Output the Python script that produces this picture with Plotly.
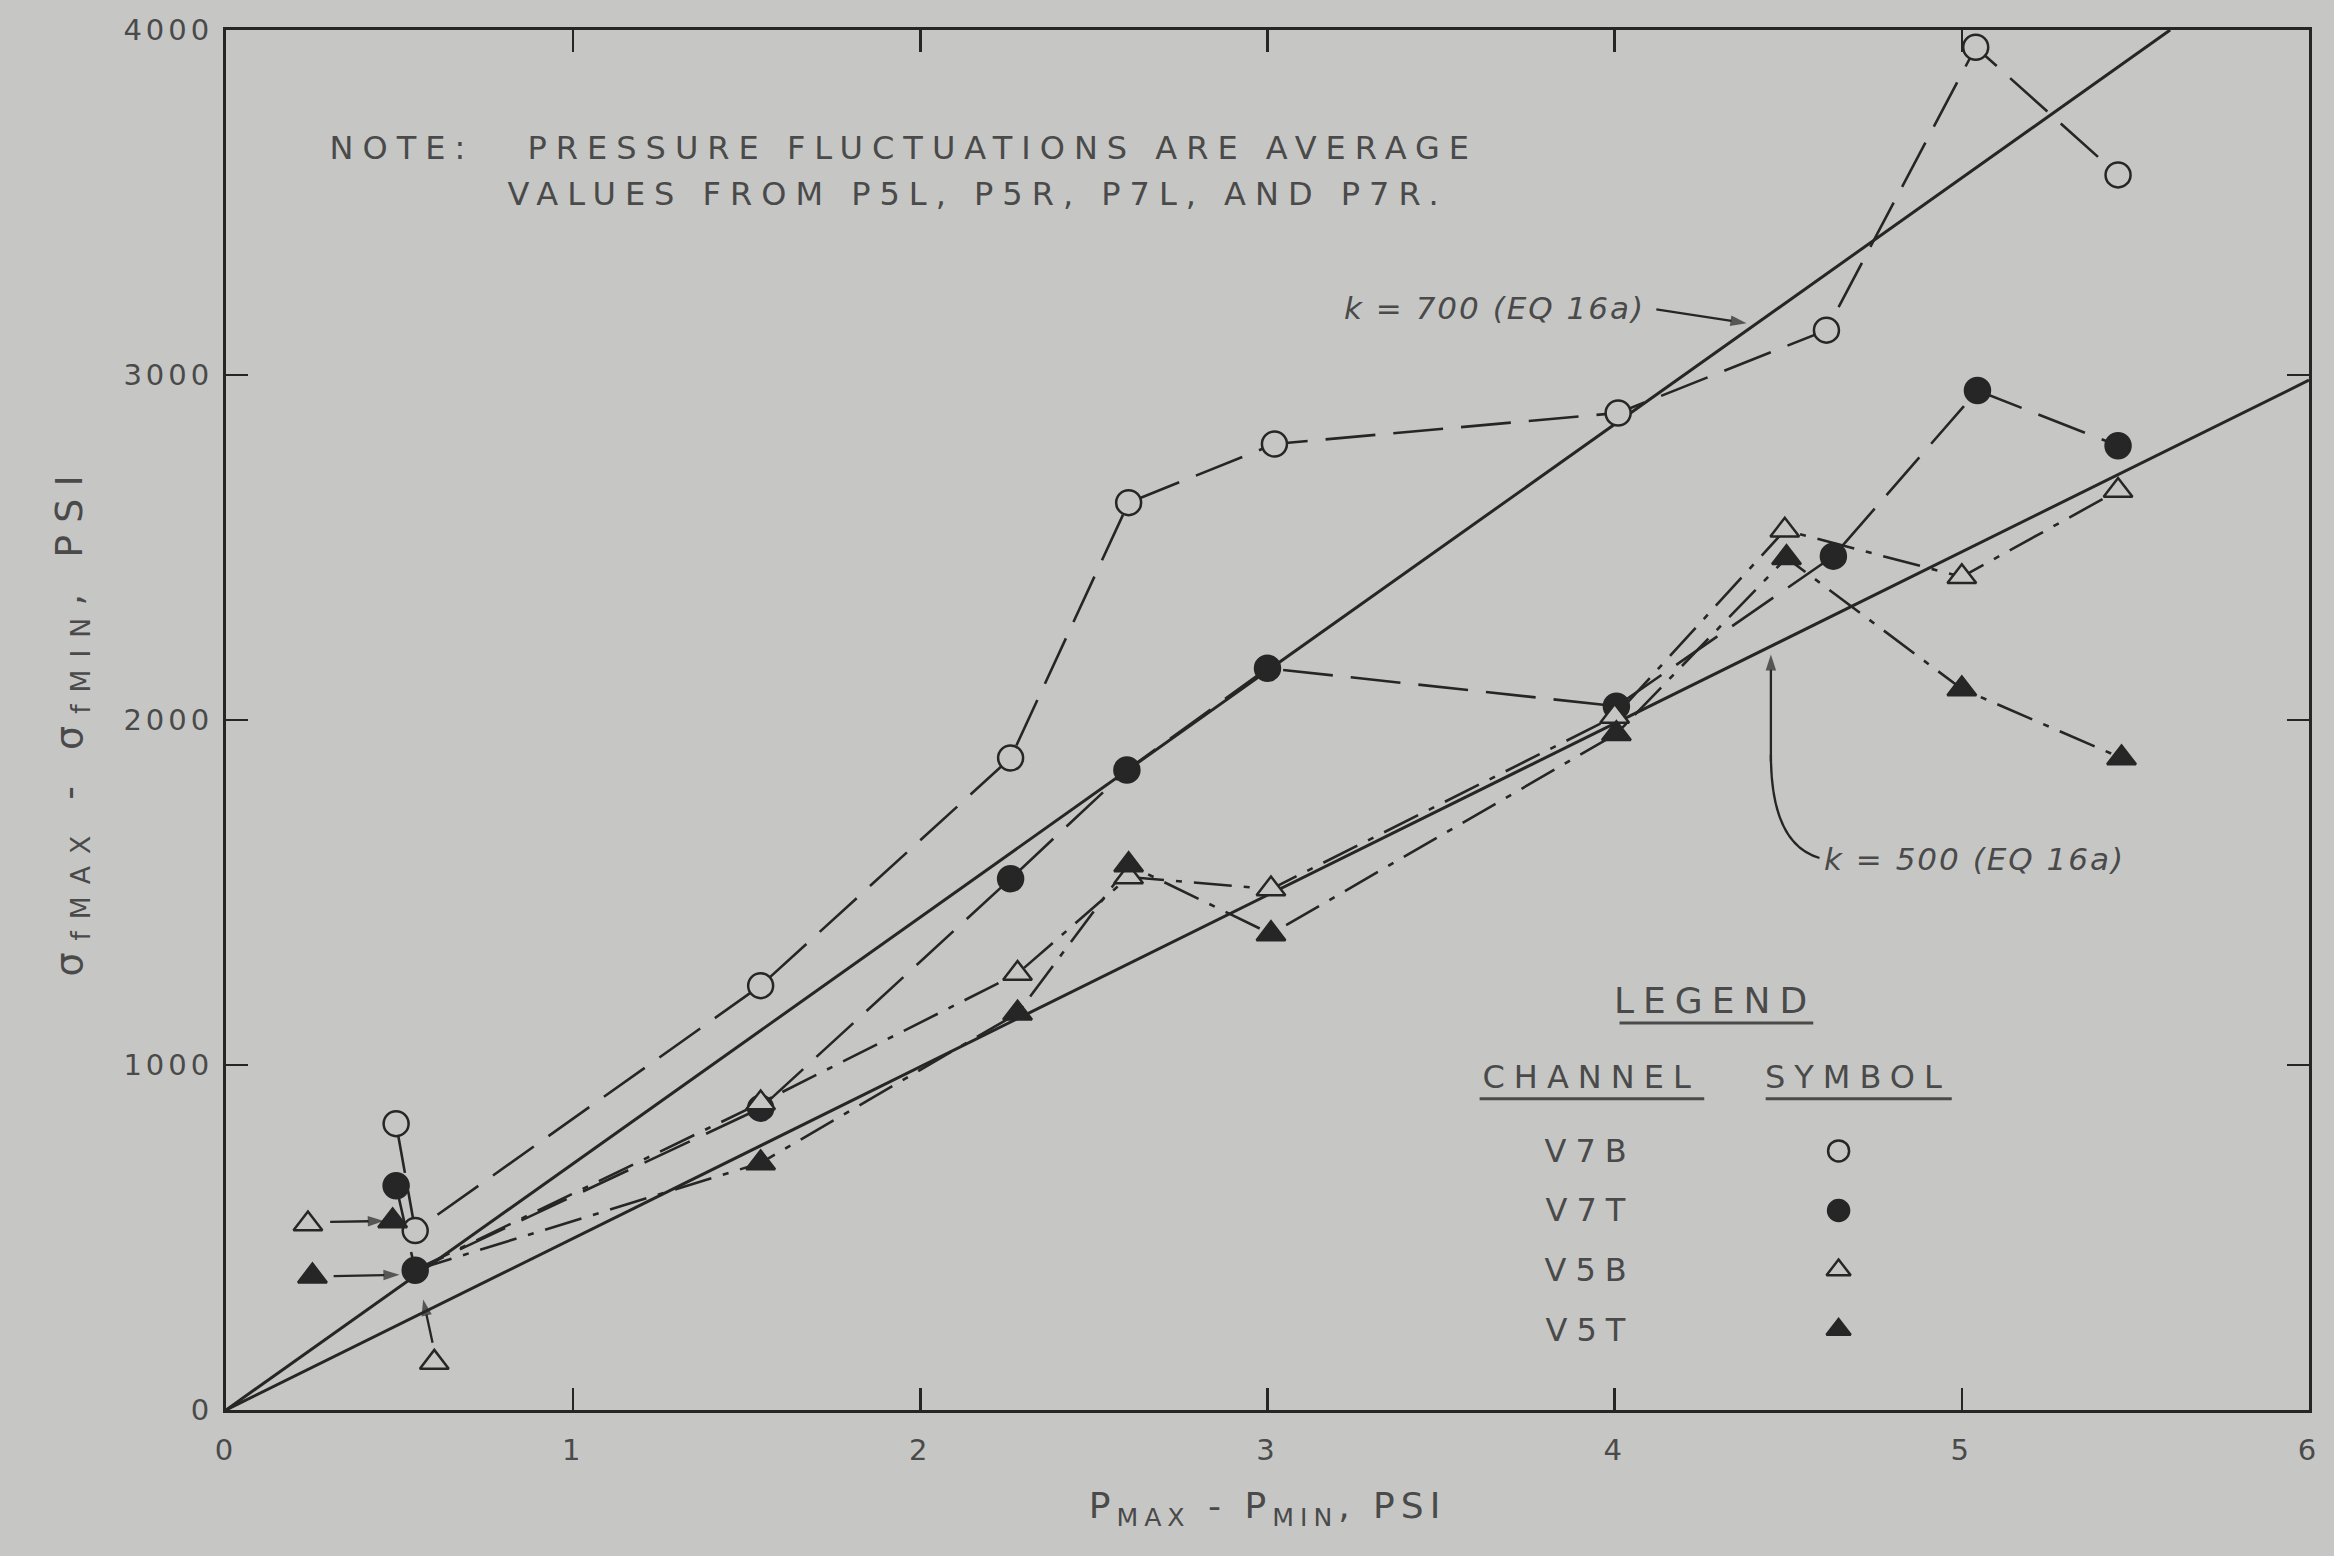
import plotly.graph_objects as go

# ---------------- data ----------------
x_ticks = [0, 1, 2, 3, 4, 5, 6]
y_ticks = [0, 1000, 2000, 3000, 4000]

v7b_x = [0.49, 0.545, 1.54, 2.26, 2.60, 3.02, 4.01, 4.61, 5.04, 5.45]
v7b_y = [830, 520, 1230, 1890, 2630, 2800, 2890, 3130, 3950, 3580]

v7t_x = [0.49, 0.545, 1.54, 2.26, 2.595, 3.0, 4.005, 4.63, 5.045, 5.45]
v7t_y = [650, 405, 875, 1540, 1855, 2150, 2040, 2475, 2955, 2795]

v5b_x = [0.545, 1.54, 2.28, 2.60, 3.01, 4.0, 4.49, 5.0, 5.45]
v5b_y = [406, 890, 1265, 1545, 1510, 2010, 2550, 2415, 2665]

v5t_x = [0.545, 1.54, 2.28, 2.60, 3.01, 4.005, 4.495, 5.0, 5.46]
v5t_y = [406, 716, 1150, 1580, 1380, 1960, 2470, 2090, 1890]

# symbols drawn beside the crowded origin cluster (with pointer arrows)
offset_open_tri_x = [0.236, 0.60]
offset_open_tri_y = [539, 138]
offset_fill_tri_x = [0.249, 0.48]
offset_fill_tri_y = [388, 548]

# theory lines k = 700 and k = 500 (EQ 16a), end points
k700_x = [0, 5.6]
k700_y = [0, 4000]
k500_x = [0, 6.0]
k500_y = [0, 2985]

legend_channels = ["V7B", "V7T", "V5B", "V5T"]

# ---------------- styling ----------------
BG = "#c6c7c5"
INK = "#262626"
TXT = "#4a4a4a"
FONT = "DejaVu Sans"

fig = go.Figure()

def add_line(x, y, dash, width=2.6):
    fig.add_trace(go.Scatter(x=x, y=y, mode="lines",
                             line=dict(color=INK, width=width, dash=dash),
                             hoverinfo="skip", showlegend=False))

def add_markers(x, y, symbol, size, filled):
    fig.add_trace(go.Scatter(
        x=x, y=y, mode="markers",
        marker=dict(symbol=symbol, size=size,
                    color=INK if filled else BG,
                    line=dict(color=INK, width=2.5)),
        hoverinfo="skip", showlegend=False))

def add_arrow(x0, y0, x1, y1, head=17):
    fig.add_trace(go.Scatter(
        x=[x0, x1], y=[y0, y1], mode="lines+markers",
        line=dict(color=INK, width=2.3),
        marker=dict(symbol="arrow", size=[0, head], angleref="previous",
                    color=INK, line=dict(width=0)),
        hoverinfo="skip", showlegend=False))

# theory lines (solid)
add_line(k700_x, k700_y, "solid", 3)
add_line(k500_x, k500_y, "solid", 3)

# data lines
add_line(v7b_x, v7b_y, "50px,18px")
add_line(v7t_x, v7t_y, "50px,18px")
add_line(v5b_x, v5b_y, "38px,12px,6px,12px")
add_line(v5t_x, v5t_y, "38px,12px,6px,12px")

# data markers
add_markers(v7b_x, v7b_y, "circle", 25, False)
add_markers(v7t_x, v7t_y, "circle", 25, True)
add_markers(v5b_x[1:], v5b_y[1:], "triangle-up", 25, False)
add_markers(v5t_x[1:], v5t_y[1:], "triangle-up", 25, True)
add_markers(offset_open_tri_x, offset_open_tri_y, "triangle-up", 25, False)
add_markers(offset_fill_tri_x, offset_fill_tri_y, "triangle-up", 25, True)

# pointer arrows
add_arrow(4.12, 3190, 4.38, 3150)      # k = 700 label
add_arrow(4.45, 1880, 4.45, 2190)      # k = 500 label (curved tail below)
add_arrow(0.30, 545, 0.455, 548)       # origin cluster pointers
add_arrow(0.31, 388, 0.50, 392)
add_arrow(0.595, 195, 0.568, 320)

# legend table (drawn inside the plot, like the original)
leg_text_x = 3.93
leg_sym_x = 4.645
row0_y = 751
row_step = 172.6
row_y = [row0_y - i * row_step for i in range(len(legend_channels))]
leg_symbols = [("circle", False), ("circle", True), ("triangle-up", False), ("triangle-up", True)]
for (sym, filled), yy in zip(leg_symbols, row_y):
    add_markers([leg_sym_x], [yy], sym, 21, filled)

annotations = []

def txt(x, y, s, size=32, italic=False, color=TXT):
    annotations.append(dict(
        x=x, y=y, xref="x", yref="y", text=s, showarrow=False,
        xanchor="center", yanchor="middle",
        font=dict(family=FONT, size=size, color=color,
                  style="italic" if italic else "normal")))

# note (centres)
txt(0.508, 3658, "NOTE:", 32)
txt(2.239, 3658, "PRESSURE FLUCTUATIONS ARE AVERAGE", 32)
txt(2.164, 3525, "VALUES FROM P5L, P5R, P7L, AND P7R.", 32)

# k labels
txt(3.654, 3193, "k = 700 (EQ 16a)", 31, italic=True)
txt(5.037, 1596, "k = 500 (EQ 16a)", 31, italic=True)

# legend texts
txt(4.29, 1186, "LEGEND", 36)
txt(3.933, 966, "CHANNEL", 32)
txt(4.70, 966, "SYMBOL", 32)
for name, yy in zip(legend_channels, row_y):
    txt(leg_text_x, yy, name, 32)

shapes = []
def uline(x0, x1, y):
    shapes.append(dict(type="line", xref="x", yref="y", x0=x0, x1=x1, y0=y, y1=y,
                       line=dict(color=TXT, width=3)))
uline(4.014, 4.572, 1122)
uline(3.611, 4.258, 902)
uline(4.435, 4.971, 902)

# curved leader of the k = 500 label
shapes.append(dict(type="path", xref="x", yref="y",
                   path="M 4.59,1600 Q 4.45,1640 4.45,1900",
                   line=dict(color=INK, width=2.3)))

axis_common = dict(
    showgrid=False, zeroline=False, showline=True, linecolor=INK, linewidth=3,
    mirror="ticks", ticks="inside", ticklen=22, tickwidth=2.5, tickcolor=INK,
    tickfont=dict(family=FONT, size=29, color=TXT),
)

fig.update_layout(
    width=2334, height=1556,
    margin=dict(l=226, r=25, t=30, b=146),
    paper_bgcolor=BG, plot_bgcolor=BG,
    showlegend=False,
    annotations=annotations,
    shapes=shapes,
    xaxis=dict(range=[0, 6], tickvals=x_ticks, ticktext=[str(v) for v in x_ticks],
               ticklabelstandoff=12,
               title=dict(text="P<sub>MAX</sub> - P<sub>MIN</sub>, PSI",
                          font=dict(family=FONT, size=36, color=TXT), standoff=28),
               **axis_common),
    yaxis=dict(range=[0, 4000], tickvals=y_ticks, ticktext=[str(v) for v in y_ticks],
               ticklabelstandoff=4,
               title=dict(text="σ<sub>fMAX</sub> - σ<sub>fMIN</sub>, PSI",
                          font=dict(family=FONT, size=38, color=TXT), standoff=46),
               **axis_common),
)

# page: no body margin, and the wide letter spacing of the original lettering
post = """
document.documentElement.style.margin='0';
document.body.style.margin='0';
document.body.style.background='%s';
var gd = document.getElementById('{plot_id}');
function spacing(){
  gd.querySelectorAll('.annotation-text').forEach(function(e){
    var t = e.textContent || '';
    e.style.letterSpacing = (t.indexOf('k =') === 0) ? '2px' : '9px';
  });
  gd.querySelectorAll('.xtick text, .ytick text').forEach(function(e){
    e.style.letterSpacing = '4px';
  });
  gd.querySelectorAll('.xtitle').forEach(function(e){ e.style.letterSpacing = '6px'; });
  gd.querySelectorAll('.ytitle').forEach(function(e){ e.style.letterSpacing = '12px'; });
}
spacing();
gd.on('plotly_afterplot', spacing);
""" % BG

fig.write_html("out.html", post_script=post,
               config={"displayModeBar": False, "staticPlot": True})
